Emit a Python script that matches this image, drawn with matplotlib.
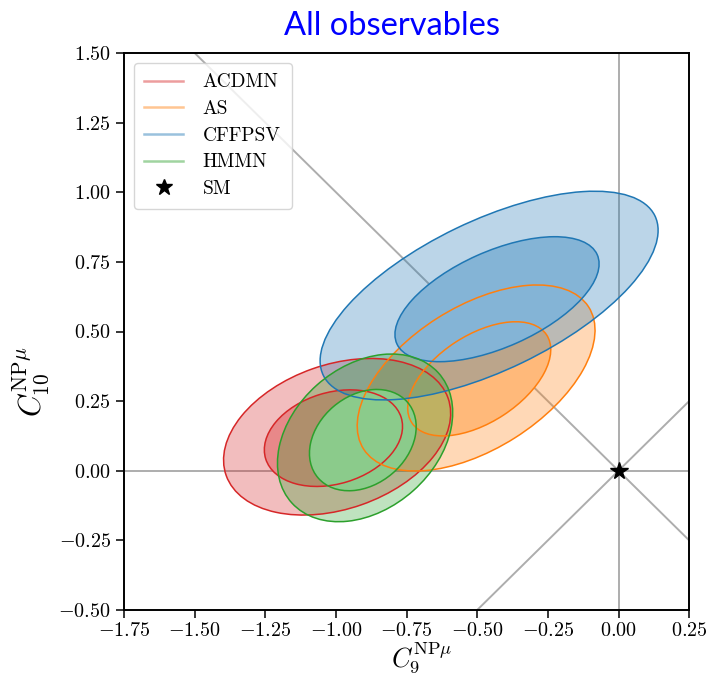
import matplotlib
matplotlib.use("Agg")
import matplotlib.pyplot as plt
from matplotlib.patches import Ellipse
from matplotlib.lines import Line2D
from matplotlib.colors import to_rgb

plt.rcParams['font.family'] = 'serif'
plt.rcParams['font.serif'] = ['cmr10']
plt.rcParams['mathtext.fontset'] = 'cm'
plt.rcParams['axes.formatter.use_mathtext'] = True

# fits: name, colour
fits = ['ACDMN', 'AS', 'CFFPSV', 'HMMN']
colores = ['tab:red', 'tab:orange', 'tab:blue', 'tab:green']

# 1 sigma regions (centre C9, centre C10, semi-axes, angle in degrees)
c9_1s = [-1.009, -0.493, -0.430, -0.905]
c10_1s = [0.117, 0.330, 0.616, 0.110]
a_1s = [0.251, 0.286, 0.389, 0.2085]
b_1s = [0.164, 0.156, 0.172, 0.159]
ang_1s = [17.3, 33.7, 24.4, 40.9]

# 2 sigma regions
c9_2s = [-0.996, -0.504, -0.458, -0.897]
c10_2s = [0.122, 0.333, 0.629, 0.118]
a_2s = [0.4165, 0.473, 0.653, 0.349]
b_2s = [0.259, 0.255, 0.268, 0.255]
ang_2s = [19.6, 32.8, 26.1, 42.2]

# Standard Model point
sm = (0.0, 0.0)

xticks = [-1.75, -1.50, -1.25, -1.00, -0.75, -0.50, -0.25, 0.00, 0.25]
yticks = [-0.50, -0.25, 0.00, 0.25, 0.50, 0.75, 1.00, 1.25, 1.50]


def aclarar(col, f):
    r, g, b = to_rgb(col)
    return (1 - f * (1 - r), 1 - f * (1 - g), 1 - f * (1 - b))


fig = plt.figure(figsize=(7.09, 6.80), dpi=100)
ax = fig.add_axes([0.175, 0.103, 0.797, 0.819])

# lineas de referencia por el punto SM
for pend in [-1, 1]:
    ax.axline(sm, slope=pend, color='0.6', lw=1.4, alpha=0.8, zorder=1)
ax.axvline(sm[0], color='0.6', lw=1.4, alpha=0.8, zorder=1)
ax.axhline(sm[1], color='0.6', lw=1.4, alpha=0.8, zorder=1)

handles = []
for i in range(len(fits)):
    col = colores[i]
    z = 2 + 2 * i
    e2 = Ellipse((c9_2s[i], c10_2s[i]), 2 * a_2s[i], 2 * b_2s[i], angle=ang_2s[i])
    e1 = Ellipse((c9_1s[i], c10_1s[i]), 2 * a_1s[i], 2 * b_1s[i], angle=ang_1s[i])
    # relleno: banda 2 sigma transparente, region 1 sigma opaca
    e2.set(facecolor=col, alpha=0.3, edgecolor='none', zorder=z)
    e1.set(facecolor=aclarar(col, 0.55), alpha=1.0, edgecolor='none', zorder=z + 1)
    ax.add_patch(e2)
    ax.add_patch(e1)
    # contornos por encima de todos los rellenos
    for cx, cy, a, b, ang in [(c9_2s[i], c10_2s[i], a_2s[i], b_2s[i], ang_2s[i]),
                              (c9_1s[i], c10_1s[i], a_1s[i], b_1s[i], ang_1s[i])]:
        ax.add_patch(Ellipse((cx, cy), 2 * a, 2 * b, angle=ang,
                             facecolor='none', edgecolor=col, lw=1.1, zorder=20))
    handles.append(Line2D([], [], color=col, lw=1.8, alpha=0.45, label=fits[i]))

ax.plot(sm[0], sm[1], marker='*', color='k', ms=13, ls='none', zorder=25)
handles.append(Line2D([], [], marker='*', color='k', ms=12, ls='none', label='SM'))

ax.set_xlim(-1.75, 0.25)
ax.set_ylim(-0.5, 1.5)
ax.set_xticks(xticks)
ax.set_yticks(yticks)
ax.tick_params(labelsize=14.5, length=6, width=1.1)
ax.tick_params(axis='x', pad=2.5)
for s in ax.spines.values():
    s.set_linewidth(1.4)

ax.set_xlabel(r'$C_9^{\mathrm{NP}\mu}$', fontsize=19)
ax.set_ylabel(r'$C_{10}^{\mathrm{NP}\mu}$', fontsize=22)
ax.xaxis.set_label_coords(0.527, -0.055)
ax.yaxis.set_label_coords(-0.128, 0.41)

leg = ax.legend(handles=handles, loc='upper left', fontsize=14, handlelength=2.0,
                borderpad=0.55, labelspacing=0.45, handletextpad=1.0,
                fancybox=True, framealpha=0.8)
leg.set_zorder(30)

fig.text(0.553, 0.962, 'All observables', color='blue', fontsize=23.5,
         family='Lato', ha='center', va='center')

fig.savefig('out.png', dpi=100)
